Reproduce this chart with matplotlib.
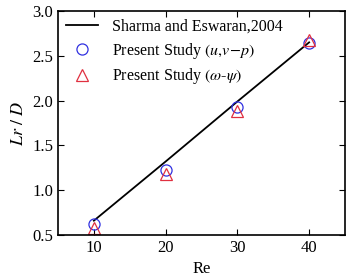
import matplotlib
matplotlib.use("Agg")
import matplotlib.pyplot as plt

# data
re = [10, 20, 30, 40]
sharma = [0.66, 1.32, 1.99, 2.65]
uvp = [0.62, 1.22, 1.93, 2.64]
omega_psi = [0.58, 1.18, 1.88, 2.68]

plt.rcParams['font.family'] = ['Liberation Serif', 'DejaVu Serif']
plt.rcParams['mathtext.fontset'] = 'stix'

fig = plt.figure(figsize=(3.55, 2.79), dpi=100)
ax = fig.add_axes([58/355, 1 - 235/279, 287/355, 224/279])

ax.plot(re, sharma, color='black', lw=1.3, label='Sharma and Eswaran,2004')
ax.plot(re, uvp, 'o', mfc='none', mec='#3030e0', ms=8, mew=0.9,
        label=r'Present Study $(u{,}v\!-\!p)$')
ax.plot(re, omega_psi, '^', mfc='none', mec='#e03040', ms=8, mew=0.9,
        label=r'Present Study $(\omega$-$\psi)$')

ax.set_xlim(5, 45)
ax.set_ylim(0.5, 3.0)
ax.set_xticks([10, 20, 30, 40])
ax.set_yticks([0.5, 1.0, 1.5, 2.0, 2.5, 3.0])
ax.yaxis.set_major_formatter(matplotlib.ticker.FormatStrFormatter('%.1f'))
ax.tick_params(direction='in', top=True, right=True, labelsize=12, length=4)
for s in ax.spines.values():
    s.set_linewidth(1.2)

ax.set_xlabel('Re', fontsize=12)
ax.set_ylabel(r'$Lr\ /\ D$', fontsize=13)
ax.legend(loc='upper left', frameon=False, fontsize=11.5, handlelength=2.0,
          borderaxespad=0.1, labelspacing=0.35, handletextpad=0.9)

fig.savefig('out.png', dpi=100)
